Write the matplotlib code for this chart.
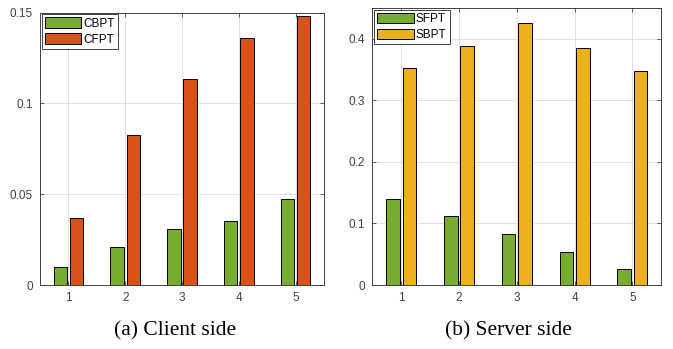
import matplotlib
matplotlib.use("Agg")
import matplotlib.pyplot as plt
import numpy as np

groups = [1, 2, 3, 4, 5]
cbpt = [0.0097, 0.0208, 0.0309, 0.0354, 0.0476]
cfpt = [0.0369, 0.0825, 0.1135, 0.1360, 0.1480]
sfpt = [0.140, 0.112, 0.083, 0.054, 0.026]
sbpt = [0.352, 0.389, 0.426, 0.385, 0.348]

left_yticks = [0, 0.05, 0.1, 0.15]
left_yticklabels = ["0", "0.05", "0.1", "0.15"]
right_yticks = [0, 0.1, 0.2, 0.3, 0.4]
right_yticklabels = ["0", "0.1", "0.2", "0.3", "0.4"]

GREEN = "#77AC30"
ORANGE = "#D95319"
YELLOW = "#EDB120"
AXC = "#404040"

W, H = 673, 349
fig = plt.figure(figsize=(W / 100, H / 100), dpi=100)

def px(x0, y0, x1, y1):
    return [x0 / W, 1 - y1 / H, (x1 - x0) / W, (y1 - y0) / H]

def setup(ax, ylim, yticks, yticklabels):
    ax.set_xlim(0.5, 5.5)
    ax.set_ylim(*ylim)
    ax.set_xticks(groups)
    ax.set_xticklabels([str(g) for g in groups])
    ax.set_yticks(yticks)
    ax.set_yticklabels(yticklabels)
    ax.grid(True, color="#dcdcdc", linewidth=0.6)
    ax.set_axisbelow(True)
    ax.tick_params(direction="in", length=3, width=0.6, colors=AXC,
                   labelsize=8.5, top=True, right=True, pad=5)
    for lbl in ax.get_xticklabels() + ax.get_yticklabels():
        lbl.set_family("Liberation Sans")
    for s in ax.spines.values():
        s.set_linewidth(0.7)
        s.set_color(AXC)

def legend(ax):
    leg = ax.legend(loc="upper left", prop={"family": "Liberation Sans", "size": 8.5},
                    frameon=True, fancybox=False, edgecolor=AXC, framealpha=1,
                    borderpad=0.25, handlelength=3.1, handleheight=1.0,
                    labelspacing=0.3, handletextpad=0.2, borderaxespad=0.15)
    leg.get_frame().set_linewidth(0.7)

x = np.array(groups, dtype=float)
off = 0.143
bw = 0.235

ax1 = fig.add_axes(px(40, 12.7, 324, 285))
ax1.bar(x - off, cbpt, bw, color=GREEN, edgecolor="black", linewidth=0.7, label="CBPT")
ax1.bar(x + off, cfpt, bw, color=ORANGE, edgecolor="black", linewidth=0.7, label="CFPT")
setup(ax1, (0, 0.15), left_yticks, left_yticklabels)
legend(ax1)

ax2 = fig.add_axes(px(372.3, 8, 661.3, 285))
ax2.bar(x - off, sfpt, bw, color=GREEN, edgecolor="black", linewidth=0.7, label="SFPT")
ax2.bar(x + off, sbpt, bw, color=YELLOW, edgecolor="black", linewidth=0.7, label="SBPT")
setup(ax2, (0, 0.45), right_yticks, right_yticklabels)
legend(ax2)

fig.text(175 / W, 1 - 331 / H, "(a) Client side", family="Liberation Serif",
         fontsize=15.5, ha="center", va="center")
fig.text(508 / W, 1 - 331 / H, "(b) Server side", family="Liberation Serif",
         fontsize=15.5, ha="center", va="center")

fig.savefig("out.png", dpi=100)
